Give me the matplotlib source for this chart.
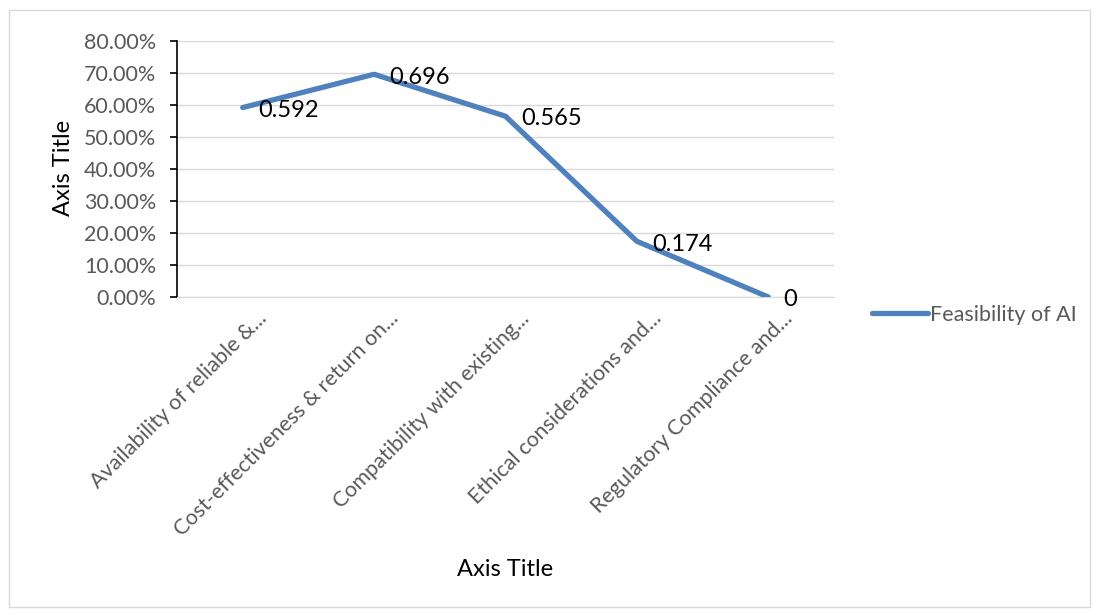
import matplotlib.pyplot as plt
from matplotlib.ticker import PercentFormatter
from matplotlib.patches import Rectangle
from matplotlib.transforms import ScaledTranslation

# datos de la serie
categorias = ["Availability of reliable &...", "Cost-effectiveness & return on...",
              "Compatibility with existing...", "Ethical considerations and...",
              "Regulatory Compliance and..."]
valores = [0.592, 0.696, 0.565, 0.174, 0]
etiquetas = ["0.592", "0.696", "0.565", "0.174", "0"]
serie = "Feasibility of AI"

plt.rcParams['font.family'] = ['Lato', 'DejaVu Sans']

fig = plt.figure(figsize=(10.97, 6.15), dpi=100)
# borde exterior del grafico
fig.patches.append(Rectangle((9/1097, 8/615), 1081/1097, 597/615, transform=fig.transFigure,
                             fill=False, edgecolor='#d9d9d9', linewidth=1))

ax = fig.add_axes([177/1097, 1 - 297/615, 657/1097, 256/615])
x = range(len(categorias))
ax.plot(x, valores, color='#4f81bd', linewidth=3.8, solid_capstyle='round',
        solid_joinstyle='round', label=serie, zorder=3)

for xi, v, t in zip(x, valores, etiquetas):
    ax.annotate(t, (xi, v), xytext=(11, -2), textcoords='offset points',
                ha='left', va='center', fontsize=17, color='black', zorder=4)

ax.set_xlim(-0.5, len(categorias) - 0.5)
ax.set_ylim(0, 0.8)
ax.set_yticks([i / 10 for i in range(9)])
ax.yaxis.set_major_formatter(PercentFormatter(1.0, decimals=2))
ax.grid(axis='y', color='#d9d9d9', linewidth=1)
ax.set_axisbelow(True)

for s in ['top', 'right']:
    ax.spines[s].set_visible(False)
ax.spines['left'].set_color('black')
ax.spines['left'].set_linewidth(1.2)
ax.spines['bottom'].set_color('#d9d9d9')
ax.tick_params(axis='y', colors='#595959', labelsize=15.5, length=5, width=1.2,
               color='black', pad=10)
ax.tick_params(axis='x', length=0, pad=8)
ax.set_xticks(list(x))
ax.set_xticklabels(categorias, rotation=45, ha='right', va='top',
                   rotation_mode='anchor', fontsize=15.5, color='#595959')
# desplazar un poco las etiquetas hacia la derecha
desplaz = ScaledTranslation(0.14, 0, fig.dpi_scale_trans)
for lbl in ax.get_xticklabels():
    lbl.set_transform(lbl.get_transform() + desplaz)

fig.text(63/1097, 1 - 168/615, "Axis Title", fontsize=17, rotation=90,
         ha='center', va='center')
fig.text(505/1097, 1 - 570/615, "Axis Title", fontsize=17, ha='center', va='center')

ax.legend(loc='center left', bbox_to_anchor=((872 - 177) / 657, (297 - 315) / 256),
          frameon=False, fontsize=15.5, labelcolor='#595959', handlelength=2.6,
          handletextpad=0.1, borderaxespad=0, borderpad=0)

plt.savefig("out.png", dpi=100)
